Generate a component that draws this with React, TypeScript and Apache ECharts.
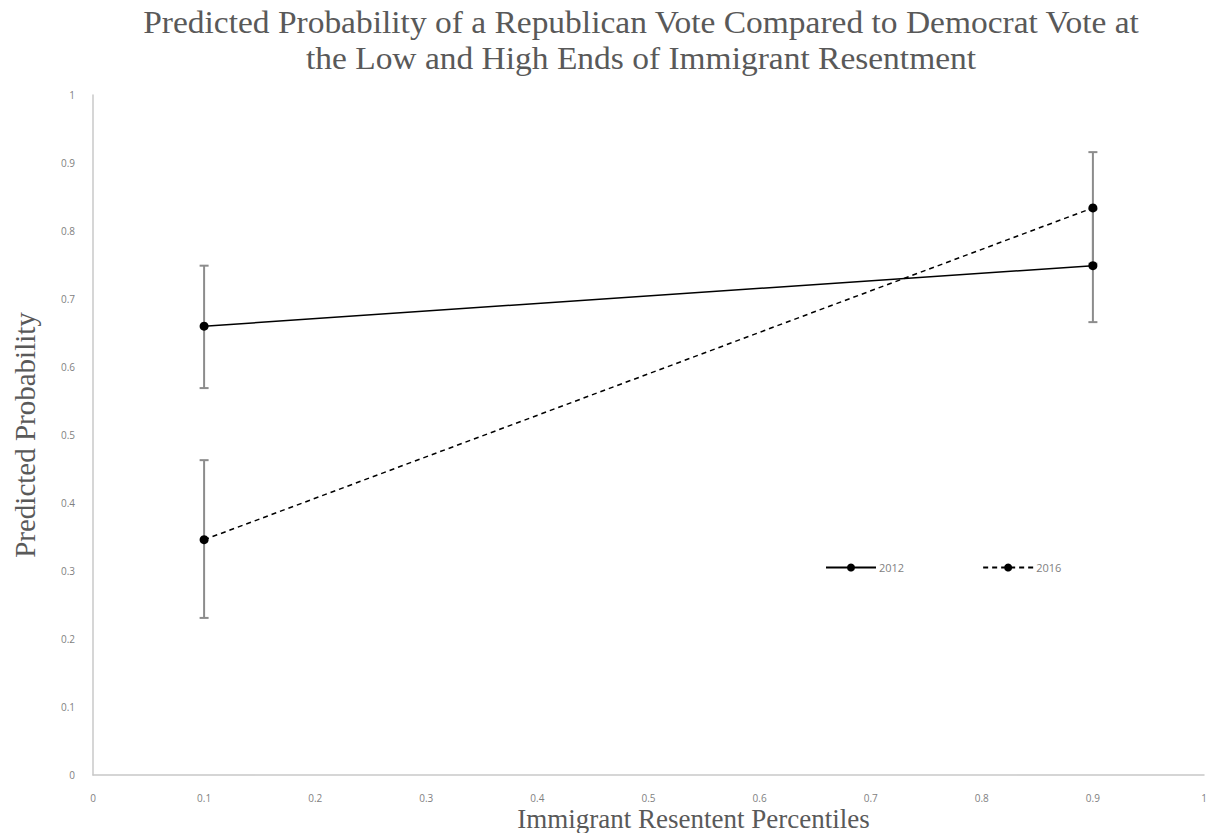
import React, { useEffect, useRef } from "react";
import * as echarts from "echarts";

const titleLines = [
  "Predicted Probability of a Republican Vote Compared to Democrat Vote at",
  "the Low and High Ends of Immigrant Resentment",
];
const xAxisName = "Immigrant Resentent Percentiles";
const yAxisName = "Predicted Probability";
const seriesNames = ["2012", "2016"];
const xValues = [0.1, 0.9];
const prob2012 = [0.66, 0.749];
const low2012 = [0.569, 0.666];
const high2012 = [0.749, 0.832];
const prob2016 = [0.346, 0.834];
const low2016 = [0.231, 0.752];
const high2016 = [0.463, 0.916];

const labelFont = "'Open Sans', 'Liberation Sans', sans-serif";
const serifFont = "'Liberation Serif', 'DejaVu Serif', serif";

function errorSeries(name: string, lows: number[], highs: number[]) {
  return {
    type: "custom",
    name: name + " error",
    z: 1,
    silent: true,
    data: xValues.map((x, i) => [x, lows[i], highs[i]]),
    encode: { x: 0, y: [1, 2] },
    renderItem: (params: any, api: any) => {
      const x = api.value(0);
      const lo = api.coord([x, api.value(1)]);
      const hi = api.coord([x, api.value(2)]);
      const half = 4.5;
      const style = { stroke: "#8c8c8c", lineWidth: 2 };
      return {
        type: "group",
        children: [
          { type: "line", shape: { x1: lo[0], y1: lo[1], x2: hi[0], y2: hi[1] }, style },
          { type: "line", shape: { x1: hi[0] - half, y1: hi[1], x2: hi[0] + half, y2: hi[1] }, style },
          { type: "line", shape: { x1: lo[0] - half, y1: lo[1], x2: lo[0] + half, y2: lo[1] }, style },
        ],
      };
    },
  };
}

export default function App() {
  const ref = useRef<HTMLDivElement>(null);
  useEffect(() => {
    if (!ref.current) return;
    const chart = echarts.init(ref.current, null, { renderer: "svg" });
    chart.setOption({
      animation: false,
      backgroundColor: "#ffffff",
      graphic: titleLines.map((t, i) => ({
        type: "text",
        x: 641,
        y: 22 + i * 36,
        scaleX: 1.08,
        style: {
          text: t,
          fill: "#595959",
          font: `31px ${serifFont}`,
          align: "center",
          verticalAlign: "middle",
        },
      })),
      legend: {
        data: seriesNames,
        left: 820,
        top: 557,
        itemWidth: 50,
        itemHeight: 10,
        itemGap: 78,
        itemStyle: { color: "#000" },
        textStyle: { color: "#7f7f7f", fontSize: 11, fontFamily: labelFont, padding: [0, 0, 0, -2] },
      },
      grid: {
        left: 93,
        right: 10,
        top: 95,
        bottom: 58,
        containLabel: false,
        outerBoundsMode: "none",
      },
      xAxis: {
        type: "value",
        min: 0,
        max: 1,
        interval: 0.1,
        name: xAxisName,
        nameLocation: "middle",
        nameGap: 30,
        nameMoveOverlap: false,
        nameTextStyle: {
          color: "#595959",
          fontSize: 27,
          fontFamily: serifFont,
          padding: [0, 0, 0, 90],
        },
        axisLine: { lineStyle: { color: "#c8c8c8", width: 1.5 } },
        axisTick: { show: false },
        splitLine: { show: false },
        axisLabel: {
          color: "#7f7f7f",
          fontSize: 10,
          fontFamily: labelFont,
          margin: 18,
          formatter: (v: number) => String(Math.round(v * 10) / 10),
        },
      },
      yAxis: {
        type: "value",
        min: 0,
        max: 1,
        interval: 0.1,
        name: yAxisName,
        nameLocation: "middle",
        nameGap: 54,
        nameMoveOverlap: false,
        nameTextStyle: { color: "#595959", fontSize: 29, fontFamily: serifFont },
        axisLine: { show: true, lineStyle: { color: "#c8c8c8", width: 1.5 } },
        axisTick: { show: false },
        splitLine: { show: false },
        axisLabel: {
          color: "#7f7f7f",
          fontSize: 10,
          fontFamily: labelFont,
          margin: 18,
          formatter: (v: number) => String(Math.round(v * 10) / 10),
        },
      },
      series: [
        errorSeries(seriesNames[0], low2012, high2012),
        errorSeries(seriesNames[1], low2016, high2016),
        {
          type: "line",
          name: seriesNames[0],
          z: 3,
          data: xValues.map((x, i) => [x, prob2012[i]]),
          symbol: "circle",
          symbolSize: 9,
          itemStyle: { color: "#000" },
          lineStyle: { color: "#000", width: 1.5, type: "solid" },
        },
        {
          type: "line",
          name: seriesNames[1],
          z: 3,
          data: xValues.map((x, i) => [x, prob2016[i]]),
          symbol: "circle",
          symbolSize: 9,
          itemStyle: { color: "#000" },
          lineStyle: { color: "#000", width: 1.5, type: [5, 4] },
        },
      ],
    });
    return () => chart.dispose();
  }, []);
  return <div ref={ref} style={{ width: 1214, height: 833, position: "absolute", left: 0, top: 0 }} />;
}
